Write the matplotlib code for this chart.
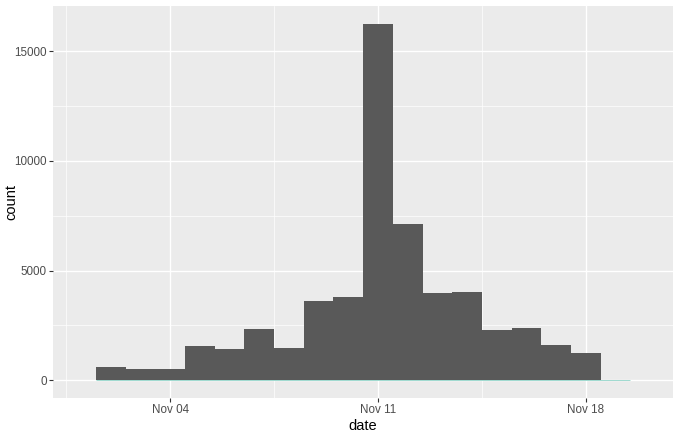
import matplotlib
matplotlib.use("Agg")
import matplotlib.pyplot as plt
import matplotlib.dates as mdates
import datetime as dt

# daily bins (centred on each day), counts
bin_days = list(range(2, 20))  # Nov 02 .. Nov 19
counts = [590, 515, 515, 1580, 1410, 2320, 1450, 3600, 3790, 16250,
          7120, 3990, 4020, 2270, 2360, 1590, 1260, 30]

year = 2018
centres = [dt.datetime(year, 11, d) for d in bin_days]
tick_days = [4, 11, 18]

plt.rcParams["font.family"] = ["Liberation Sans", "DejaVu Sans"]

fig = plt.figure(figsize=(6.8, 4.34), dpi=100)
ax = fig.add_axes([0.078, 0.083, 0.912, 0.903])
ax.set_facecolor("#EBEBEB")

x = mdates.date2num(centres)
ax.bar(x, counts, width=1.0, color="#595959", linewidth=0, zorder=3)
# thin baseline under the bars
ax.hlines(0, x[0] - 0.5, x[-1] + 0.5, color="#8fd3c8", linewidth=0.6, zorder=4)

# limits
x0 = mdates.date2num(dt.datetime(year, 11, 1)) - 0.94
x1 = mdates.date2num(dt.datetime(year, 11, 20)) + 0.94
ax.set_xlim(x0, x1)
ymax = max(counts)
ax.set_ylim(-0.05 * ymax, ymax * 1.05)

# grid
major_x = [mdates.date2num(dt.datetime(year, 11, d)) for d in tick_days]
minor_x = [mdates.date2num(dt.datetime(year, 11, d)) - 3.5 for d in tick_days]
ax.set_xticks(major_x)
ax.set_xticks(minor_x, minor=True)
ax.set_xticklabels([dt.datetime(year, 11, d).strftime("%b %d") for d in tick_days])
ax.set_yticks([0, 5000, 10000, 15000])
ax.set_yticks([2500, 7500, 12500], minor=True)
ax.grid(which="major", color="white", linewidth=1.0, zorder=0)
ax.grid(which="minor", color="white", linewidth=0.5, zorder=0)
ax.set_axisbelow(True)

for s in ax.spines.values():
    s.set_visible(False)

ax.tick_params(which="major", length=2.6, width=0.8, color="#333333",
               labelsize=8.4, labelcolor="#4D4D4D", pad=2)
ax.tick_params(which="minor", length=0)

ax.set_xlabel("date", fontsize=10.5, color="black", labelpad=2)
ax.set_ylabel("count", fontsize=10.5, color="black")
ax.yaxis.set_label_coords(-0.056, 0.5)

fig.savefig("out.png", dpi=100)
